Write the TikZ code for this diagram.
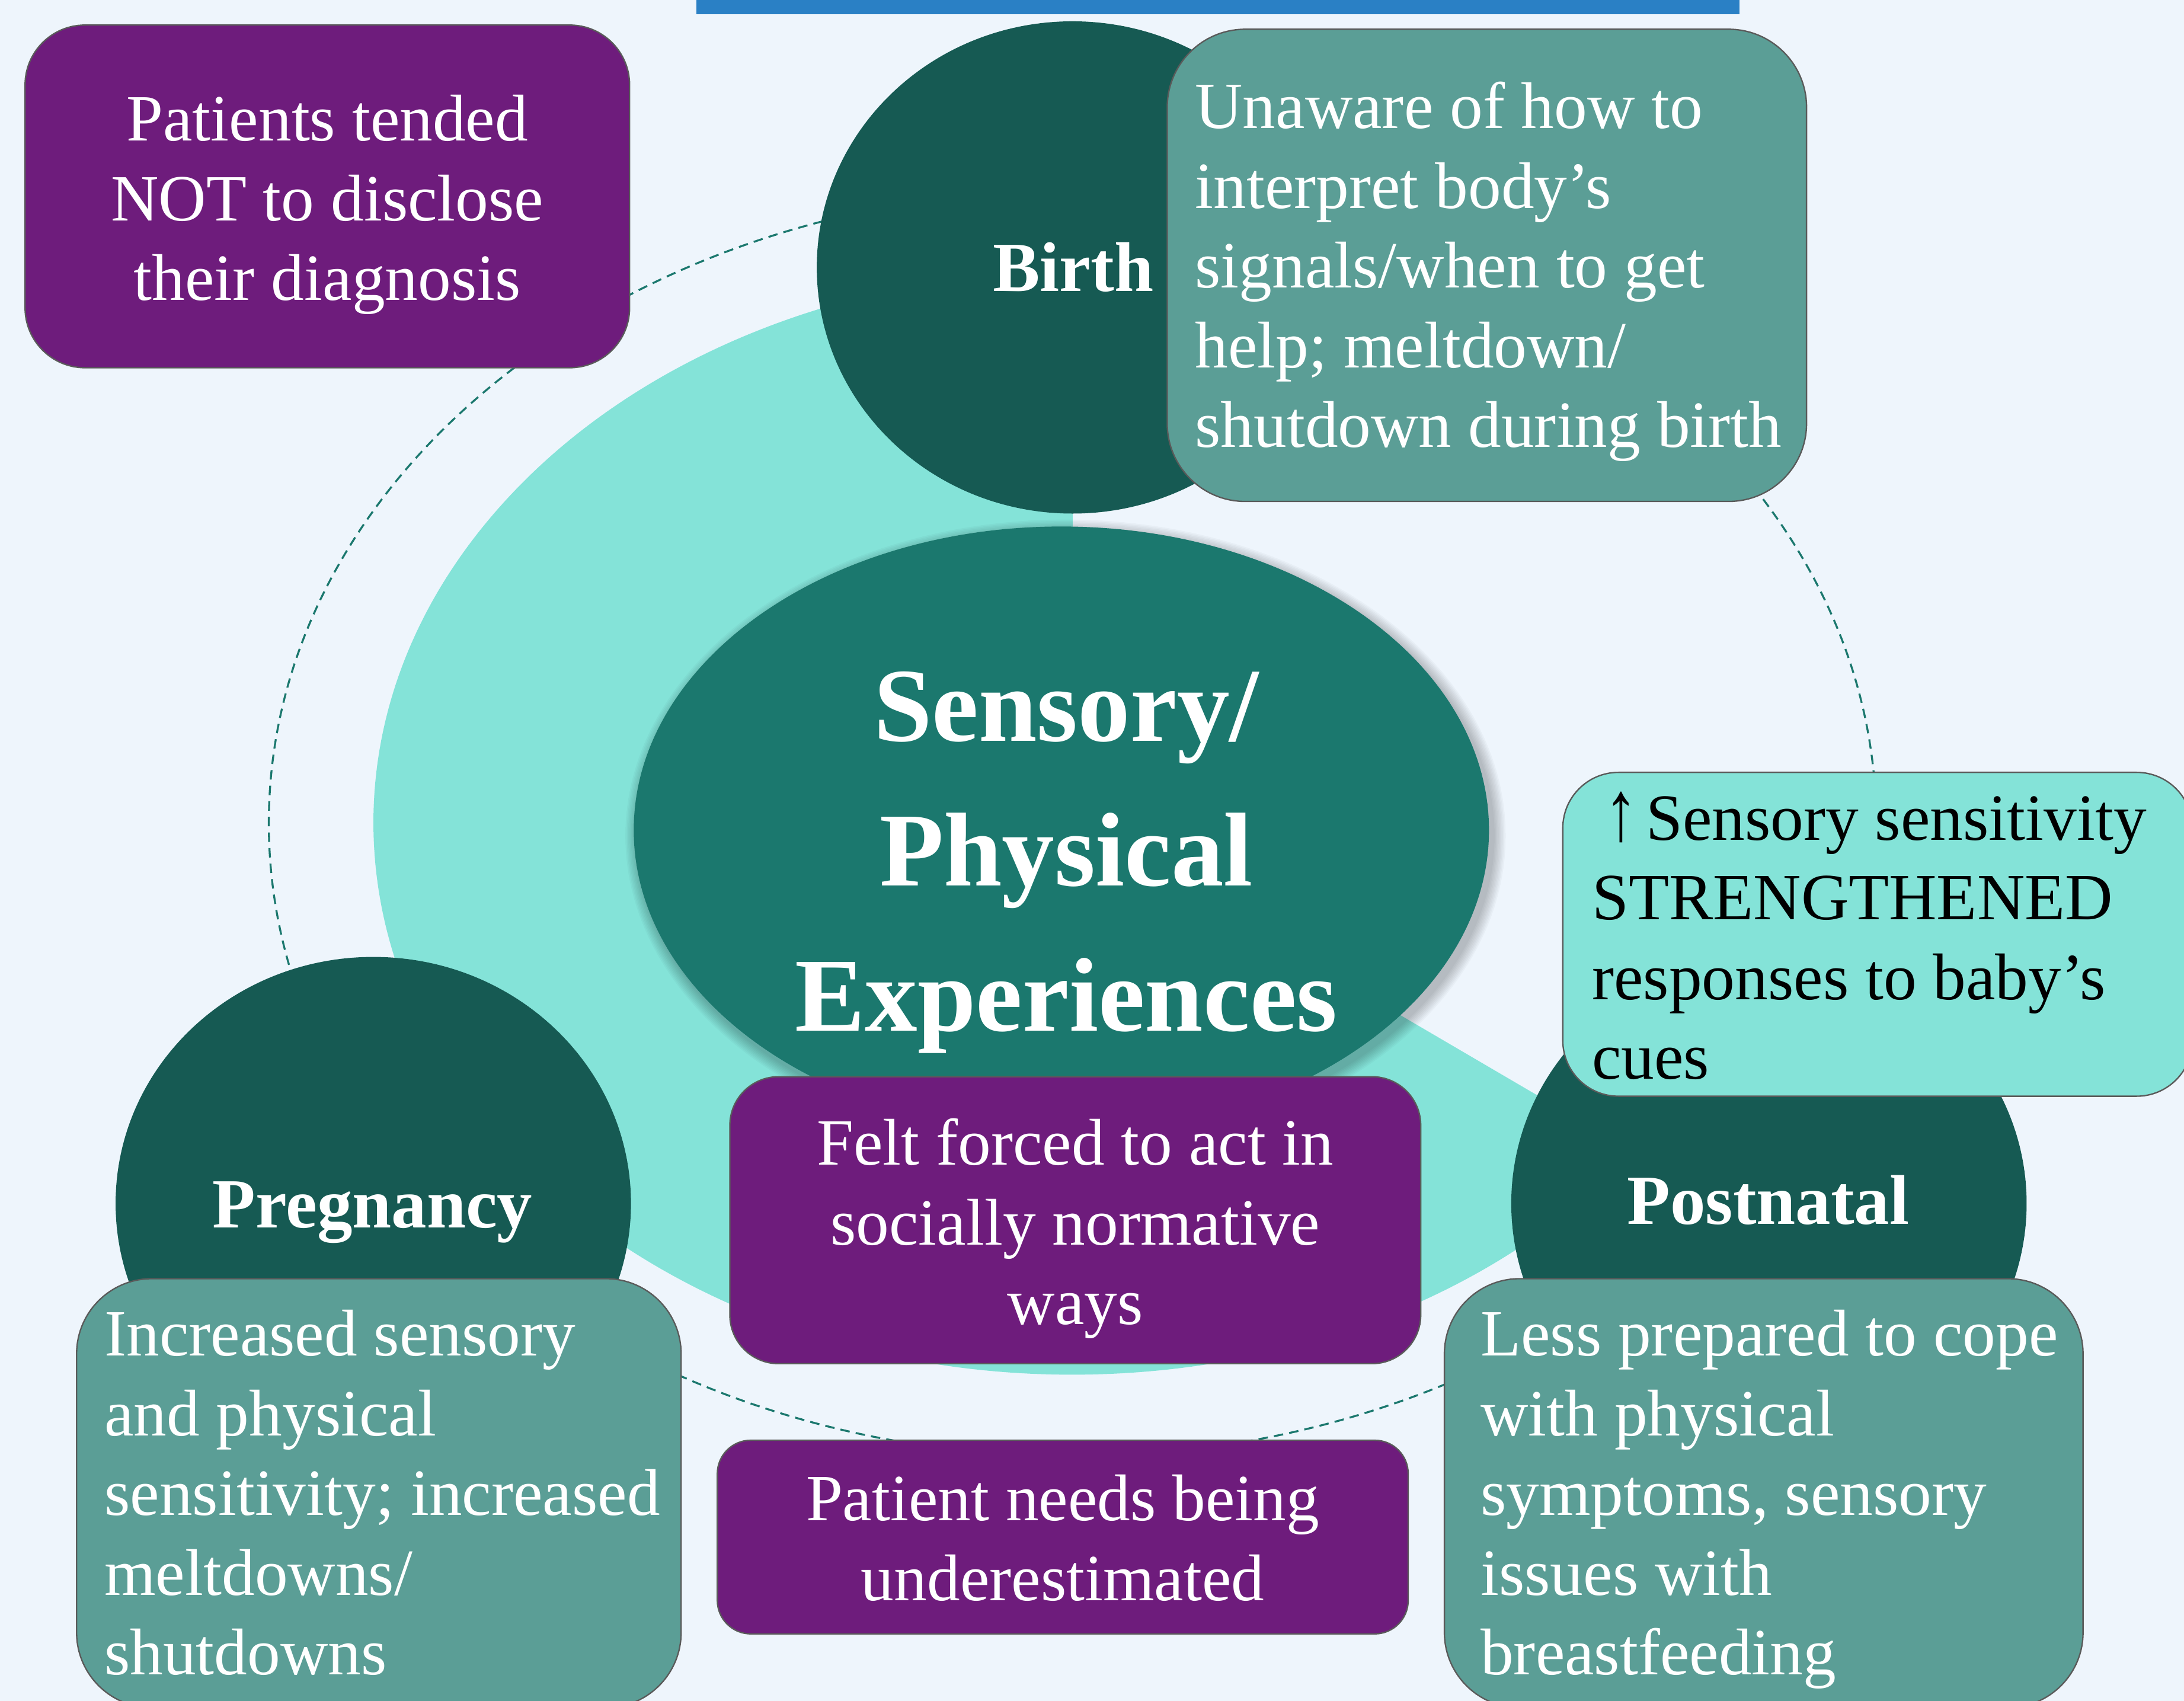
\documentclass[tikz,border=0pt]{standalone}
\usepackage{graphicx}
\usepackage{fontspec}
\setmainfont{Liberation Serif}
\usetikzlibrary{shapes.geometric}
\definecolor{bgc}{HTML}{EEF5FC}
\definecolor{lteal}{HTML}{84E3D8}
\definecolor{midteal}{HTML}{1B786E}
\definecolor{darkteal}{HTML}{165A53}
\definecolor{grayteal}{HTML}{5B9E96}
\definecolor{purp}{HTML}{6E1C7C}
\definecolor{barblue}{HTML}{2A80C5}
\definecolor{edgegray}{HTML}{5A5A5A}
\newcommand{\natsp}{\spaceskip=\fontdimen2\font\xspaceskip=\fontdimen2\font\relax}
\begin{document}
\begin{tikzpicture}[x=0.5pt,y=-0.5pt,
  dashring/.style={draw=midteal, line width=0.7pt, dash pattern=on 3.4pt off 2.2pt},
  circ/.style={ellipse, fill=darkteal, inner sep=0pt, outer sep=0pt},
  rbox/.style={rectangle, draw=edgegray, line width=0.5pt, inner sep=0pt, outer sep=0pt},
  bodytxt/.style={inner sep=0pt, outer sep=0pt, font=\fontsize{23.7}{28.6}\selectfont},
  lefttxt/.style={bodytxt, anchor=base west, text width=240pt, align=left},
  centtxt/.style={bodytxt, anchor=base, text width=240pt, align=center},
  lbltxt/.style={inner sep=0pt, anchor=base, text=white, font=\bfseries\fontsize{25.3}{30}\selectfont}
]
\useasboundingbox (0,0) rectangle (1568,1221.2);
\fill[bgc] (0,0) rectangle (1568,1221.2);
\fill[barblue] (500,-5) rectangle (1249,10.3);

% dashed ring
\draw[dashring] (770,591) ellipse [x radius=577, y radius=454.5];

% light teal pie
\fill[lteal] (770,591) -- (1173.1,827.0) arc[start angle=36.6, end angle=270, x radius=502, y radius=396] -- cycle;

% birth
\node[circ, minimum width=183.6pt, minimum height=176.7pt] (birthc) at (770,192) {};
\node[rbox, fill=grayteal, minimum width=229.5pt, minimum height=169.5pt, rounded corners=28pt] (birthbox) at (1067.5,190.5) {};
% patients box
\node[rbox, fill=purp, minimum width=217pt, minimum height=123pt, rounded corners=21.5pt] (patbox) at (235,141) {};

% central ellipse with soft shadow
\foreach \i in {1,...,9}
  \fill[black, opacity=0.028] (765,600) ellipse [x radius={307+\i}, y radius={218+\i}];
\node[ellipse, fill=midteal, inner sep=0pt, minimum width=307pt, minimum height=218pt] (core) at (762,596) {};

% pregnancy & postnatal circles
\node[circ, minimum width=185pt, minimum height=177pt] (pregc) at (268,864) {};
\node[circ, minimum width=185pt, minimum height=177pt] (postc) at (1270,864) {};

% sensory box
\node[rbox, fill=lteal, minimum width=226pt, minimum height=116.25pt, rounded corners=20pt] (sensbox) at (1348,670.75) {};

% purple middle boxes
\node[rbox, fill=purp, minimum width=248pt, minimum height=103pt, rounded corners=17.5pt] (feltbox) at (772,876) {};
\node[rbox, fill=purp, minimum width=248pt, minimum height=69.5pt, rounded corners=12pt] (needbox) at (763,1103.5) {};

% bottom boxes
\node[rbox, fill=grayteal, minimum width=217pt, minimum height=154pt, rounded corners=27pt] (pregbox) at (272,1072) {};
\node[rbox, fill=grayteal, minimum width=229.25pt, minimum height=154pt, rounded corners=27pt] (postbox) at (1266.25,1072) {};

% texts
\node[anchor=base, inner sep=0pt, text width=300pt, align=center, text=white,
      font=\bfseries\fontsize{37.7}{52.1}\selectfont] (coretext) at (765.5,531.9) {Sensory/\\Physical\\Experiences};

\node[lbltxt] (birthlbl) at (770.5,209) {Birth};
\node[lbltxt] (preglbl) at (267.5,881.5) {Pregnancy};
\node[lbltxt] (postlbl) at (1269.5,879) {Postnatal};

\node[centtxt, text=white] (pattxt) at (235,101.2) {\natsp Patients tended\\NOT to disclose\\their diagnosis};
\node[lefttxt, text=white] (birthtxt) at (858,92.3) {\natsp Unaware of how to\\interpret body’s\\signals/when to get\\help; meltdown/\\shutdown during birth};
\node[lefttxt, text=black] (senstxt) at (1143,603) {\natsp\hspace{4.5pt}\scalebox{1}[1.3]{↑}\hspace{3pt}Sensory sensitivity\\STRENGTHENED\\responses to baby’s\\cues};
\node[centtxt, text=white] (felttxt) at (772,836.5) {\natsp Felt forced to act in\\socially normative\\ways};
\node[centtxt, text=white] (needtxt) at (763,1091.7) {\natsp Patient needs being\\underestimated};
\node[lefttxt, text=white] (pregtxt) at (75,973.5) {\natsp Increased sensory\\and physical\\sensitivity; increased\\meltdowns/\\shutdowns};
\node[lefttxt, text=white] (posttxt) at (1063,973.5) {\natsp Less prepared to cope\\with physical\\symptoms, sensory\\issues with\\breastfeeding};
\end{tikzpicture}
\end{document}
